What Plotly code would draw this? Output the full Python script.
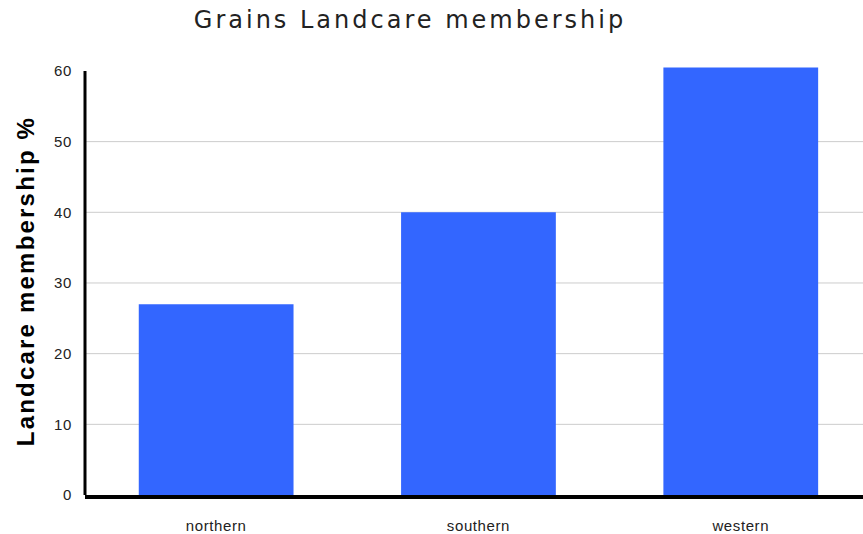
import plotly.graph_objects as go

categories = ["northern", "southern", "western"]
values = [27, 40, 60.5]
y_ticks = [0, 10, 20, 30, 40, 50, 60]
grid_vals = [10, 20, 30, 40, 50]

fig = go.Figure()
fig.add_trace(go.Bar(x=categories, y=values, marker=dict(color="#3366ff", line=dict(width=0))))

shapes = []
for g in grid_vals:
    shapes.append(dict(type="line", xref="paper", yref="y", x0=0, x1=1, y0=g, y1=g,
                       line=dict(color="#cccccc", width=1), layer="below"))
shapes.append(dict(type="line", xref="paper", yref="y", x0=0, x1=0, y0=0, y1=y_ticks[-1],
                   line=dict(color="black", width=3), layer="above"))

fig.update_layout(
    width=863, height=534,
    margin=dict(l=85, r=0, t=67, b=37),
    paper_bgcolor="white", plot_bgcolor="white",
    bargap=0.41,
    showlegend=False,
    shapes=shapes,
    title=dict(text="Grains Landcare membership", x=410/863, xanchor="center", y=1-20/534, yanchor="middle",
               font=dict(family="DejaVu Sans", size=24, color="#222222")),
    font=dict(family="Liberation Sans, Arial", color="#222222"),
)
fig.update_xaxes(range=[-0.5, 2.466], showline=True, linecolor="black", linewidth=4,
                 tickfont=dict(size=15, color="#222222"), ticks="", ticklabelstandoff=14,
                 showgrid=False)
fig.update_yaxes(range=[0, 60.56], tickvals=y_ticks, showline=False, showgrid=False, zeroline=False,
                 tickfont=dict(size=15, color="#222222"), ticks="", ticklabelstandoff=12,
                 title=dict(text="<b>Landcare membership %</b>", font=dict(size=24, color="black"), standoff=13))

post = """
document.body.style.margin='0';
var gd=document.getElementById('{plot_id}');
function spacing(){
  gd.querySelectorAll('.gtitle').forEach(function(e){e.style.letterSpacing='3px';});
  gd.querySelectorAll('.ytitle').forEach(function(e){e.style.letterSpacing='2.2px';});
  gd.querySelectorAll('.xtick text, .ytick text').forEach(function(e){e.style.letterSpacing='0.6px';});
}
spacing();
gd.on('plotly_afterplot', spacing);
"""

fig.write_html("out.html", post_script=post, config={"displayModeBar": False})
